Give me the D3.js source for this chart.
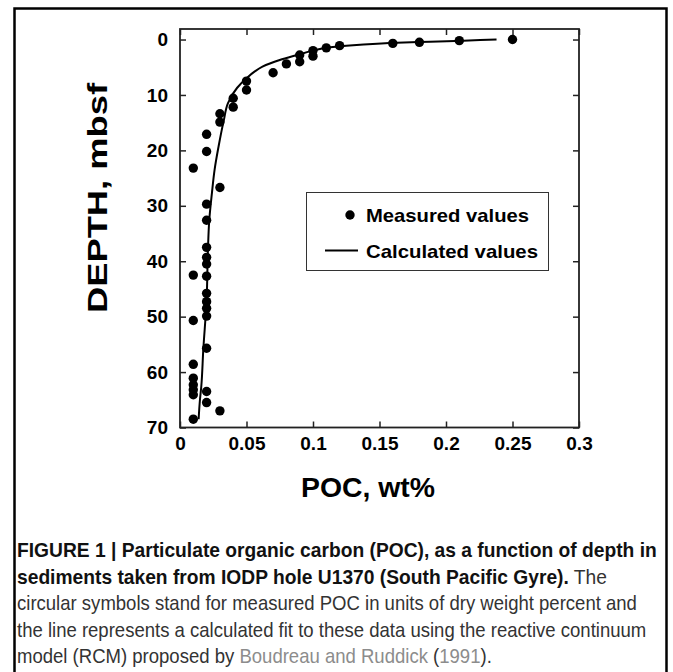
<!DOCTYPE html>
<html>
<head>
<meta charset="utf-8">
<script src="https://cdn.jsdelivr.net/npm/d3@7"></script>
<style>
  html, body { margin: 0; padding: 0; background: #fff; }
  svg { display: block; }
  .tick line { stroke: #222; stroke-width: 1.5; }
  .tick text { font-family: Arial, "Liberation Sans", sans-serif; font-weight: bold; font-size: 19px; fill: #000; }
</style>
</head>
<body>
<div id="container"></div>
<script>
/* Data */
var measuredPoc = [0.25, 0.21, 0.18, 0.16, 0.12, 0.11, 0.10, 0.10, 0.09, 0.09, 0.08, 0.07,
	0.05, 0.05, 0.04, 0.04, 0.03, 0.03, 0.02, 0.02, 0.01, 0.03, 0.02, 0.02, 0.02, 0.02,
	0.02, 0.02, 0.01, 0.02, 0.02, 0.02, 0.02, 0.01, 0.02, 0.01, 0.01, 0.01, 0.01, 0.01,
	0.02, 0.02, 0.03, 0.01];
var measuredDepth = [0, 0.2, 0.5, 0.7, 1.1, 1.5, 2.0, 3.0, 2.8, 4.0, 4.4, 6.0,
	7.5, 9.1, 10.6, 12.2, 13.4, 14.9, 17.1, 20.2, 23.2, 26.7, 29.7, 32.6, 37.5, 39.3,
	40.5, 42.7, 42.5, 45.8, 47.3, 48.5, 49.9, 50.7, 55.7, 58.6, 61.1, 62.3, 63.2, 64.1,
	63.5, 65.5, 67.0, 68.5];

var calcPoc = [0.238, 0.213, 0.188, 0.163, 0.138, 0.113, 0.100, 0.088, 0.075, 0.062, 0.056,
	0.050, 0.043, 0.036, 0.033, 0.029, 0.026, 0.024, 0.022, 0.021, 0.020, 0.0175, 0.016, 0.015, 0.014];
var calcDepth = [0, 0.2, 0.4, 0.6, 0.9, 1.4, 2.0, 2.8, 3.7, 4.9, 5.8,
	7.0, 8.7, 11.5, 14.5, 19.3, 23.5, 27.7, 32.6, 38, 47, 56, 62.6, 65, 68.5];

var xTicks = [0, 0.05, 0.1, 0.15, 0.2, 0.25, 0.3];
var yTicks = [0, 10, 20, 30, 40, 50, 60, 70];

var captionLines = [
	[{t: 'FIGURE 1 | Particulate organic carbon (POC), as a function of depth in', k: 'b'}],
	[{t: 'sediments taken from IODP hole U1370 (South Pacific Gyre).', k: 'b'}, {t: ' The', k: 'r'}],
	[{t: 'circular symbols stand for measured POC in units of dry weight percent and', k: 'r'}],
	[{t: 'the line represents a calculated fit to these data using the reactive continuum', k: 'r'}],
	[{t: 'model (RCM) proposed by ', k: 'r'}, {t: 'Boudreau and Ruddick', k: 'l'}, {t: ' (', k: 'r'}, {t: '1991', k: 'l'}, {t: ').', k: 'r'}]
];

var w = 673, h = 672;

var svg = d3.select('#container').append('svg')
	.attr('width', w)
	.attr('height', h);

/* outer figure frame */
svg.append('path')
	.attr('d', 'M14.5,' + h + 'V8.5H666.5V' + h)
	.attr('fill', 'none')
	.attr('stroke', '#000')
	.attr('stroke-width', 2.5);

/* scales */
var xScale = d3.scaleLinear().domain([0, 0.3]).range([180, 579]),
	yScale = d3.scaleLinear().domain([-1.9, 70]).range([29, 427.5]);

var fmt = d => String(+d.toFixed(2));

/* axes, ticks pointing inwards */
svg.append('g')
	.attr('transform', 'translate(0,' + yScale(70) + ')')
	.call(d3.axisBottom(xScale).tickValues(xTicks).tickSize(-6).tickSizeOuter(0).tickPadding(9).tickFormat(fmt))
	.call(g => g.select('.domain').remove());

svg.append('g')
	.attr('transform', 'translate(0,' + yScale(-1.9) + ')')
	.call(d3.axisTop(xScale).tickValues(xTicks).tickSize(-6).tickSizeOuter(0).tickFormat(''))
	.call(g => g.select('.domain').remove());

svg.append('g')
	.attr('transform', 'translate(' + xScale(0) + ',0)')
	.call(d3.axisLeft(yScale).tickValues(yTicks).tickSize(-6).tickSizeOuter(0).tickPadding(12))
	.call(g => g.select('.domain').remove());

svg.append('g')
	.attr('transform', 'translate(' + xScale(0.3) + ',0)')
	.call(d3.axisRight(yScale).tickValues(yTicks).tickSize(-6).tickSizeOuter(0).tickFormat(''))
	.call(g => g.select('.domain').remove());

/* plot frame */
svg.append('rect')
	.attr('x', xScale(0))
	.attr('y', yScale(-1.9))
	.attr('width', xScale(0.3) - xScale(0))
	.attr('height', yScale(70) - yScale(-1.9))
	.attr('fill', 'none')
	.attr('stroke', '#222')
	.attr('stroke-width', 1.8);

/* calculated line */
var calcData = calcPoc.map((p, i) => ({x: p, y: calcDepth[i]}));
var line = d3.line()
	.x(d => xScale(d.x))
	.y(d => yScale(d.y))
	.curve(d3.curveMonotoneY);

svg.append('path')
	.attr('d', line(calcData))
	.attr('fill', 'none')
	.attr('stroke', '#000')
	.attr('stroke-width', 2);

/* measured points */
var measData = measuredPoc.map((p, i) => ({x: p, y: measuredDepth[i]}));
svg.selectAll('.points')
	.data(measData)
	.enter().append('circle')
	.classed('points', true)
	.attr('cx', d => xScale(d.x))
	.attr('cy', d => yScale(d.y))
	.attr('r', 4.7)
	.attr('fill', '#000');

/* legend */
var legend = svg.append('g');
legend.append('rect')
	.attr('x', 306.5).attr('y', 192.5)
	.attr('width', 242).attr('height', 78)
	.attr('fill', '#fff')
	.attr('stroke', '#333')
	.attr('stroke-width', 1);
legend.append('circle')
	.attr('cx', 350).attr('cy', 215).attr('r', 4.7).attr('fill', '#000');
legend.append('line')
	.attr('x1', 325).attr('x2', 358).attr('y1', 250.5).attr('y2', 250.5)
	.attr('stroke', '#000').attr('stroke-width', 2);
legend.selectAll('.legtext')
	.data(['Measured values', 'Calculated values'])
	.enter().append('text')
	.attr('x', 366)
	.attr('y', (d, i) => 222 + i * 35.5)
	.attr('textLength', (d, i) => i ? 172 : 163)
	.attr('lengthAdjust', 'spacingAndGlyphs')
	.style('font-family', 'Arial, "Liberation Sans", sans-serif')
	.style('font-weight', 'bold')
	.style('font-size', '18.5px')
	.text(d => d);

/* axis titles */
svg.append('text')
	.attr('x', 368).attr('y', 497)
	.attr('text-anchor', 'middle')
	.attr('textLength', 134)
	.attr('lengthAdjust', 'spacingAndGlyphs')
	.style('font-family', 'Arial, "Liberation Sans", sans-serif')
	.style('font-weight', 'bold')
	.style('font-size', '27px')
	.text('POC, wt%');

svg.append('text')
	.attr('transform', 'translate(107,198) rotate(-90)')
	.attr('text-anchor', 'middle')
	.attr('textLength', 230)
	.attr('lengthAdjust', 'spacingAndGlyphs')
	.style('font-family', 'Arial, "Liberation Sans", sans-serif')
	.style('font-weight', 'bold')
	.style('font-size', '28px')
	.text('DEPTH, mbsf');

/* caption: condensed look by a horizontal squeeze of each line */
var cap = svg.append('g')
	.style('font-family', '"Liberation Sans", Arial, sans-serif')
	.style('font-size', '20px');

function addLine(parts, i) {
	var g = cap.append('g');
	var t = g.append('text').attr('x', 0).attr('y', 0).style('white-space', 'pre');
	parts.forEach(function (p) {
		t.append('tspan')
			.style('font-weight', p.k === 'b' ? 'bold' : 'normal')
			.attr('fill', p.k === 'b' ? '#111' : (p.k === 'l' ? '#8c8c8c' : '#333'))
			.text(p.t);
	});
	return g;
}
var rows = captionLines.map(addLine);
var boldSqueeze = 640 / rows[0].select('text').node().getComputedTextLength(),
	regSqueeze = 630 / rows[3].select('text').node().getComputedTextLength();
rows.forEach(function (g, i) {
	var k = i < 2 ? boldSqueeze : regSqueeze;
	g.attr('transform', 'translate(17,' + (557 + i * 26.5) + ') scale(' + k + ',1)');
});
</script>
</body>
</html>
